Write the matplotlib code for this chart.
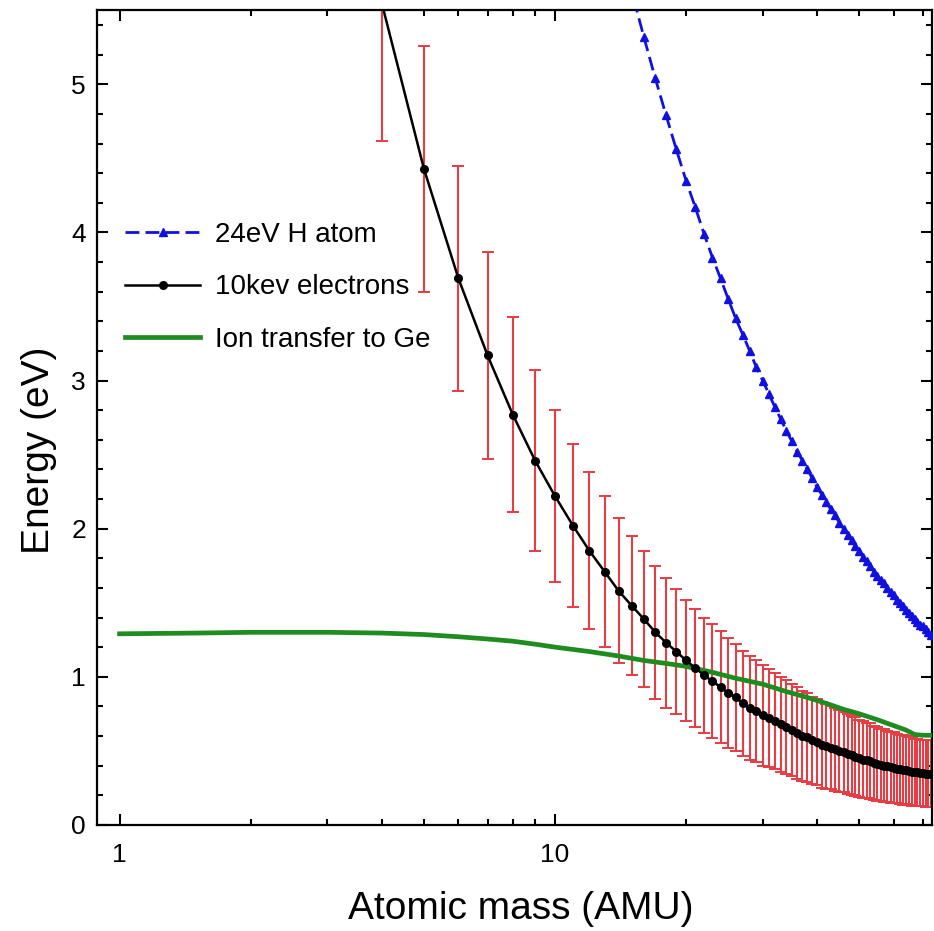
import matplotlib as mpl
mpl.use('Agg')
from matplotlib import pyplot as plt
from matplotlib.ticker import FixedLocator, MultipleLocator, NullFormatter

# 10 keV electrons: mass (AMU), max transferred energy (eV), error half-width
elec_mass = list(range(4, 74))
elec_energy = [
    5.55, 4.43, 3.69, 3.17, 2.77, 2.46, 2.22, 2.02, 1.85, 1.71,
    1.58, 1.48, 1.39, 1.30, 1.23, 1.17, 1.11, 1.06, 1.01, 0.97,
    0.93, 0.89, 0.86, 0.82, 0.79, 0.77, 0.74, 0.72, 0.70, 0.68,
    0.66, 0.64, 0.62, 0.60, 0.59, 0.57, 0.56, 0.54, 0.53, 0.52,
    0.51, 0.50, 0.49, 0.48, 0.47, 0.46, 0.45, 0.44, 0.435, 0.43,
    0.42, 0.41, 0.405, 0.40, 0.395, 0.39, 0.385, 0.38, 0.375, 0.37,
    0.37, 0.365, 0.36, 0.355, 0.355, 0.35, 0.35, 0.345, 0.345, 0.345,
]
elec_err = [
    0.93, 0.83, 0.76, 0.70, 0.66, 0.61, 0.58, 0.55, 0.53, 0.51,
    0.49, 0.47, 0.46, 0.45, 0.44, 0.42, 0.41, 0.40, 0.39, 0.385,
    0.38, 0.37, 0.36, 0.355, 0.35, 0.345, 0.34, 0.33, 0.325, 0.32,
    0.315, 0.31, 0.31, 0.305, 0.30, 0.295, 0.29, 0.29, 0.285, 0.28,
    0.28, 0.275, 0.27, 0.27, 0.265, 0.265, 0.26, 0.26, 0.255, 0.255,
    0.25, 0.25, 0.245, 0.245, 0.24, 0.24, 0.24, 0.235, 0.235, 0.235,
    0.23, 0.23, 0.23, 0.225, 0.225, 0.225, 0.225, 0.225, 0.225, 0.225,
]

# 24 eV H atom
h_mass = list(range(15, 74))
h_energy = [
    5.63, 5.32, 5.04, 4.79, 4.56, 4.35, 4.17, 3.99, 3.83, 3.69,
    3.55, 3.42, 3.31, 3.20, 3.09, 3.00, 2.91, 2.82, 2.74, 2.66,
    2.59, 2.52, 2.46, 2.40, 2.34, 2.28, 2.23, 2.18, 2.13, 2.09,
    2.04, 2.00, 1.96, 1.92, 1.88, 1.85, 1.81, 1.78, 1.75, 1.71,
    1.68, 1.65, 1.63, 1.60, 1.57, 1.55, 1.52, 1.50, 1.48, 1.45,
    1.43, 1.41, 1.39, 1.37, 1.35, 1.34, 1.32, 1.30, 1.28,
]

# Ion transfer to Ge
ion_mass = [1, 1.5, 2, 2.5, 3, 4, 5, 6, 7, 8, 9, 10, 12, 14, 16, 18, 20,
            23, 26, 30, 34, 38, 42, 46, 50, 55, 60, 64, 67, 70, 73]
ion_energy = [1.29, 1.295, 1.30, 1.30, 1.30, 1.295, 1.285, 1.27, 1.255, 1.24,
              1.22, 1.20, 1.17, 1.14, 1.11, 1.09, 1.07, 1.03, 0.99, 0.95,
              0.90, 0.86, 0.82, 0.78, 0.75, 0.71, 0.67, 0.64, 0.61, 0.605,
              0.605]

plt.rcParams['font.family'] = ['Liberation Sans', 'DejaVu Sans']

fig = plt.figure(figsize=(9.34, 9.31), dpi=100)
ax = fig.add_axes([0.104, 0.114, 0.894, 0.875])

ax.errorbar(elec_mass, elec_energy, yerr=elec_err, fmt='none',
            ecolor='#e63c44', elinewidth=1.5, capsize=4.5, capthick=1.4,
            zorder=2)
ax.plot(ion_mass, ion_energy, color='#1e8c1e', lw=3.4,
        label='Ion transfer to Ge', zorder=3)
ax.plot(elec_mass, elec_energy, color='black', lw=1.8, marker='o', ms=5.5,
        label='10kev electrons', zorder=4)
ax.plot(h_mass, h_energy, color='#1010e0', lw=2, ls=(0, (5, 2.2)),
        marker='^', ms=6, label='24eV H atom', zorder=5)

ax.set_xscale('log')
ax.set_xlim(0.888, 73.5)
ax.set_ylim(0, 5.5)
ax.xaxis.set_major_locator(FixedLocator([1, 10]))
ax.xaxis.set_major_formatter(mpl.ticker.FixedFormatter(['1', '10']))
ax.xaxis.set_minor_locator(FixedLocator([2, 3, 4, 5, 6, 7, 8, 9,
                                         20, 30, 40, 50, 60, 70]))
ax.xaxis.set_minor_formatter(NullFormatter())
ax.yaxis.set_major_locator(MultipleLocator(1))
ax.yaxis.set_minor_locator(MultipleLocator(0.2))

ax.tick_params(which='both', direction='in', top=True, right=True,
               width=1.5, labelsize=19)
ax.tick_params(which='major', length=8)
ax.tick_params(which='minor', length=4.5)
ax.tick_params(axis='x', pad=13)
ax.tick_params(axis='y', pad=8)
for s in ax.spines.values():
    s.set_linewidth(1.6)

ax.set_xlabel('Atomic mass (AMU)', fontsize=28, labelpad=17)
ax.xaxis.label.set_x(0.507)
ax.set_ylabel('Energy (eV)', fontsize=28)
ax.yaxis.set_label_coords(-0.048, 0.46)

handles, labels = ax.get_legend_handles_labels()
order = [2, 1, 0]
ax.legend([handles[i] for i in order], [labels[i] for i in order],
          loc='upper left', bbox_to_anchor=(0.0335, 0.74), frameon=False,
          borderaxespad=0, borderpad=0, fontsize=20, handlelength=2.7,
          handletextpad=0.55, labelspacing=0.95, numpoints=1)

fig.savefig('out.png', dpi=100)
